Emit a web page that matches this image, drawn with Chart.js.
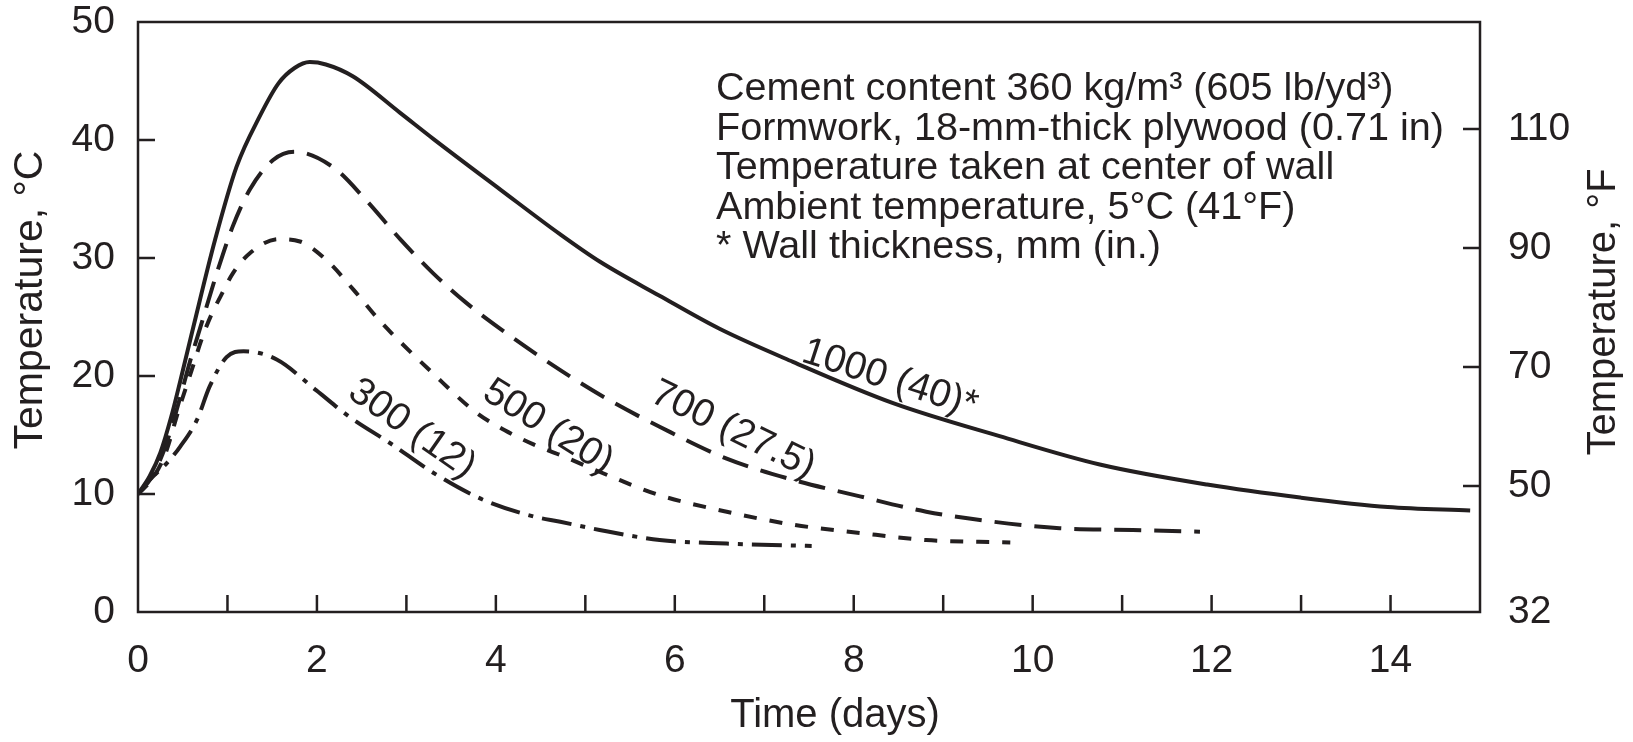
<!DOCTYPE html>
<html>
<head>
<meta charset="utf-8">
<title>Concrete wall temperature</title>
<script src="https://cdn.jsdelivr.net/npm/chart.js@4.4.0/dist/chart.umd.min.js"></script>
<style>
  html, body { margin: 0; padding: 0; background: #fff; }
</style>
</head>
<body>
<canvas id="tempChart" width="1633" height="742"></canvas>
<script>
// Curve readings, days vs. temperature (°C), one pair of arrays per wall thickness
const days1000 = [0, 0.13, 0.25, 0.37, 0.47, 0.62, 0.86, 1.1, 1.36, 1.57, 1.75, 1.92, 2.1, 2.4, 2.93, 3.3, 4.05, 4.72, 5.16, 5.83, 6.5, 7.32, 8.44, 9.63, 10.75, 11.95, 12.99, 13.97, 14.89];
const temp1000 = [10, 11.5, 13.5, 16.5, 19.5, 24.2, 31.5, 37.7, 42.0, 44.8, 46.1, 46.6, 46.4, 45.4, 42.3, 40.1, 35.8, 32.0, 29.7, 26.8, 24.0, 21.2, 17.7, 14.9, 12.5, 10.8, 9.7, 8.9, 8.6];

const days700 = [0, 0.15, 0.3, 0.45, 0.58, 0.7, 0.88, 1.06, 1.25, 1.51, 1.75, 2.18, 2.55, 2.93, 3.3, 3.67, 4.05, 4.72, 5.28, 5.83, 6.58, 7.32, 8.07, 8.81, 9.56, 10.3, 11.12, 11.87];
const temp700 = [10, 11.4, 13.9, 17.6, 21.2, 24.2, 28.7, 32.7, 35.8, 38.3, 39.0, 37.7, 34.9, 31.6, 28.7, 26.2, 24.0, 20.5, 17.9, 15.7, 13.0, 11.2, 9.8, 8.5, 7.65, 7.1, 6.95, 6.8];

const days500 = [0, 0.15, 0.3, 0.45, 0.6, 0.72, 0.82, 0.92, 1.06, 1.25, 1.57, 1.81, 2.11, 2.41, 2.7, 3.3, 3.78, 4.1, 4.42, 4.72, 5.28, 5.83, 6.58, 7.32, 8.07, 8.81, 9.75];
const temp500 = [10, 11.2, 13.3, 17.0, 20.5, 23.3, 25.2, 26.7, 28.7, 30.4, 31.6, 31.4, 29.8, 27.3, 24.7, 20.2, 16.9, 15.4, 14.2, 13.3, 11.5, 9.9, 8.5, 7.4, 6.7, 6.1, 5.9];

const days300 = [0, 0.13, 0.32, 0.47, 0.66, 0.8, 0.99, 1.18, 1.55, 1.99, 2.37, 2.82, 3.3, 3.86, 4.42, 4.72, 5.16, 5.83, 6.58, 7.53];
const temp300 = [10, 11.2, 12.6, 14.0, 16.3, 19.1, 21.6, 22.1, 21.4, 18.8, 16.5, 14.3, 11.8, 9.5, 8.1, 7.65, 6.95, 6.1, 5.8, 5.6];

// Curve labels (wall thickness, mm (in.))
const curveLabels = ['1000 (40)*', '700 (27.5)', '500 (20)', '300 (12)'];

// Axis ticks
const celsiusTicks = [0, 10, 20, 30, 40, 50];
const fahrenheitTicks = [50, 70, 90, 110];
const fahrenheitBottomLabel = '32';

// Notes block
const notes = [
    'Cement content 360 kg/m³ (605 lb/yd³)',
    'Formwork, 18-mm-thick plywood (0.71 in)',
    'Temperature taken at center of wall',
    'Ambient temperature, 5°C (41°F)',
    '* Wall thickness, mm (in.)'
];

const INK = '#231f20';
const FAMILY = '"Liberation Sans", Arial, sans-serif';
const TICK = 17;
const F_MIN = 28.8, F_MAX = 128.0;

function pairs(xs, ys) {
    return xs.map((d, i) => ({ x: d, y: ys[i] }));
}

function lineSet(label, xs, ys, dash) {
    return {
        label: label,
        data: pairs(xs, ys),
        borderColor: INK,
        borderWidth: 4,
        borderDash: dash,
        pointRadius: 0,
        fill: false,
        cubicInterpolationMode: 'monotone'
    };
}

// keep the plot box where the original has it
function fixVertical(width) {
    return s => {
        s.width = width;
        s.paddingTop = 22;
        s.paddingBottom = 0;
    };
}

// Frame, inward tick marks and all the free text
const paperPlugin = {
    id: 'paper',
    afterDatasetsDraw(chart) {
        const ctx = chart.ctx;
        const a = chart.chartArea;
        const xs = chart.scales.x;
        const yc = chart.scales.y;
        const yf = chart.scales.yF;

        ctx.save();
        ctx.strokeStyle = INK;
        ctx.lineWidth = 2.5;
        ctx.setLineDash([]);
        ctx.strokeRect(a.left, a.top, a.right - a.left, a.bottom - a.top);

        ctx.beginPath();
        xs.ticks.forEach(t => {
            if (t.value <= 0 || t.value >= 15) return;
            const px = xs.getPixelForValue(t.value);
            ctx.moveTo(px, a.bottom);
            ctx.lineTo(px, a.bottom - TICK);
        });
        celsiusTicks.forEach(v => {
            if (v <= 0 || v >= 50) return;
            const py = yc.getPixelForValue(v);
            ctx.moveTo(a.left, py);
            ctx.lineTo(a.left + TICK, py);
        });
        fahrenheitTicks.forEach(v => {
            const py = yf.getPixelForValue(v);
            ctx.moveTo(a.right, py);
            ctx.lineTo(a.right - TICK, py);
        });
        ctx.stroke();

        ctx.fillStyle = INK;

        // notes
        ctx.font = '39.6px ' + FAMILY;
        ctx.textAlign = 'left';
        ctx.textBaseline = 'alphabetic';
        notes.forEach((line, i) => ctx.fillText(line, 716, 100 + i * 39.6));

        // labels sitting along the curves
        const spots = [
            { x: 890, y: 379, angle: 18 },
            { x: 733, y: 430, angle: 26 },
            { x: 548, y: 427, angle: 32 },
            { x: 412, y: 429, angle: 35 }
        ];
        ctx.font = '39px ' + FAMILY;
        ctx.textAlign = 'center';
        ctx.textBaseline = 'middle';
        curveLabels.forEach((txt, i) => {
            const s = spots[i];
            ctx.save();
            ctx.translate(s.x, s.y);
            ctx.rotate(s.angle * Math.PI / 180);
            ctx.fillText(txt, 0, 0);
            ctx.restore();
        });

        // axis titles
        ctx.font = '40px ' + FAMILY;
        ctx.fillText('Time (days)', 835, 716);

        ctx.save();
        ctx.font = '41px ' + FAMILY;
        ctx.translate(31, 300);
        ctx.rotate(-Math.PI / 2);
        ctx.fillText('Temperature, °C', 0, 0);
        ctx.restore();

        ctx.save();
        ctx.translate(1604, 312);
        ctx.rotate(-Math.PI / 2);
        ctx.fillText('Temperature, °F', 0, 0);
        ctx.restore();

        ctx.restore();
    }
};

const tickFont = { family: FAMILY, size: 39 };

new Chart(document.getElementById('tempChart'), {
    type: 'line',
    data: {
        datasets: [
            lineSet('1000 (40)', days1000, temp1000, []),
            lineSet('700 (27.5)', days700, temp700, [27, 13]),
            lineSet('500 (20)', days500, temp500, [13, 13]),
            lineSet('300 (12)', days300, temp300, [30, 9, 5, 9])
        ]
    },
    options: {
        responsive: false,
        animation: false,
        layout: { padding: 0 },
        plugins: {
            legend: { display: false },
            tooltip: { enabled: false }
        },
        scales: {
            x: {
                type: 'linear',
                position: 'bottom',
                min: 0,
                max: 15,
                grid: { display: false, drawTicks: false },
                border: { display: false },
                ticks: {
                    stepSize: 1,
                    autoSkip: false,
                    maxRotation: 0,
                    padding: 26,
                    color: INK,
                    font: tickFont,
                    callback: v => (v % 2 === 0 ? v : '')
                },
                afterFit: s => {
                    s.height = 130;
                    s.paddingLeft = 0;
                    s.paddingRight = 0;
                }
            },
            y: {
                type: 'linear',
                position: 'left',
                min: 0,
                max: 50,
                grid: { display: false, drawTicks: false },
                border: { display: false },
                ticks: { stepSize: 10, padding: 23, color: INK, font: tickFont },
                afterFit: fixVertical(138)
            },
            yF: {
                type: 'linear',
                position: 'right',
                min: F_MIN,
                max: F_MAX,
                grid: { display: false, drawTicks: false },
                border: { display: false },
                ticks: {
                    padding: 28,
                    color: INK,
                    font: tickFont,
                    callback: v => (v === F_MIN ? fahrenheitBottomLabel : v)
                },
                afterBuildTicks: s => {
                    s.ticks = [F_MIN].concat(fahrenheitTicks).map(v => ({ value: v }));
                },
                afterFit: fixVertical(153)
            }
        }
    },
    plugins: [paperPlugin]
});
</script>
</body>
</html>
